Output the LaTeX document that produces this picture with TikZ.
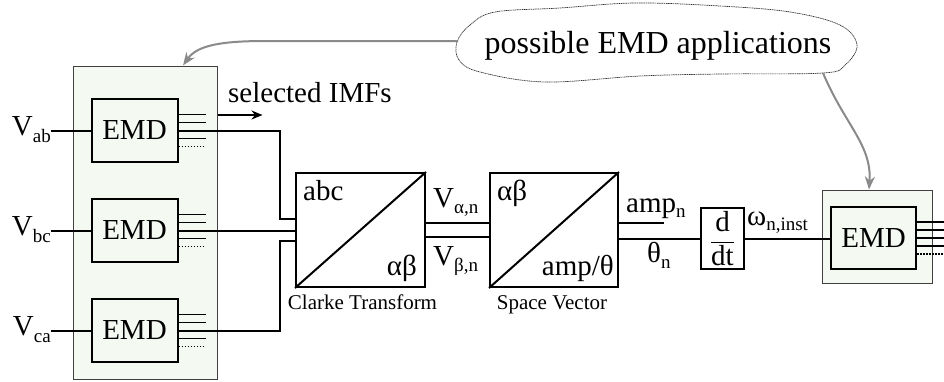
\documentclass[tikz,border=0pt]{standalone}
\usepackage{fontspec}
\setmainfont{Liberation Serif}
\usetikzlibrary{arrows.meta,calc}
\definecolor{panelgreen}{RGB}{244,249,242}
\definecolor{hintgray}{RGB}{138,138,138}
\newcommand{\lsub}[2][7pt]{\raisebox{-#1}{\fontsize{19}{19}\selectfont #2}}
\begin{document}
\begin{tikzpicture}[x=1pt,y=-1pt,
  every node/.style={font=\fontsize{29}{32}\selectfont, inner sep=0pt},
  wire/.style={line width=2pt},
  outl/.style={line width=1.8pt},
  dotl/.style={line width=1.5pt, dash pattern=on 1.5pt off 1.5pt},
  blk/.style={draw, line width=2pt},
  panel/.style={draw=black!75, line width=1pt, fill=panelgreen},
  hint/.style={draw=hintgray, line width=2pt, -{Stealth[length=13pt,width=10pt]}},
  cloudline/.style={draw=black!80, line width=0.7pt, dash pattern=on 1.2pt off 0.6pt},
  smalllab/.style={font=\fontsize{21}{22}\selectfont, anchor=base}]
\useasboundingbox (0,0) rectangle (944,381);

% panels
\node[panel, minimum width=144pt, minimum height=313pt] (pL) at (145,222.5) {};
\node[panel, minimum width=110pt, minimum height=93pt] (pR) at (877,236.5) {};

% EMD blocks
\node[blk, minimum width=86pt, minimum height=63pt] (e1) at (134.5,130.5) {EMD};
\node[blk, minimum width=86pt, minimum height=63pt] (e2) at (134.5,230.5) {EMD};
\node[blk, minimum width=86pt, minimum height=63pt] (e3) at (134.5,330.5) {EMD};
\node[blk, minimum width=85pt, minimum height=62pt] (e4) at (873.5,238) {EMD};

% input labels
\node[anchor=base east] (vab) at (51,135.5) {V\lsub{ab}};
\node[anchor=base east] (vbc) at (51,235.5) {V\lsub{bc}};
\node[anchor=base east] (vca) at (51,335.5) {V\lsub{ca}};
\draw[wire] (e1.west) -- (e1.west -| vab.east);
\draw[wire] (e2.west) -- (e2.west -| vbc.east);
\draw[wire] (e3.west) -- (e3.west -| vca.east);

% IMF outputs
\foreach \e/\len in {e1/27,e2/27,e3/27,e4/28}{
  \foreach \d in {16,8,-8}{
    \draw[outl] ([yshift=\d pt]\e.east) -- ++(\len,0);
  }
  \draw[dotl] ([yshift=-16pt]\e.east) -- ++(\len,0);
}
\draw[outl] (e4.east) -- ++(28,0);

% Clarke and space vector blocks
\node[blk, minimum width=129pt, minimum height=114pt] (cl) at (360.5,230) {};
\draw[wire] (cl.south west) -- (cl.north east);
\node[anchor=base west] (abc) at (303,200) {abc};
\node[anchor=base east] (ab1) at (417,275) {αβ};
\node[smalllab] (cllab) at (362.5,309) {Clarke Transform};

\node[blk, minimum width=128pt, minimum height=114pt] (sv) at (554,230) {};
\draw[wire] (sv.south west) -- (sv.north east);
\node[anchor=base west] (ab2) at (497,200) {αβ};
\node[anchor=base east] (ampth) at (614,275) {amp/θ};
\node[smalllab] (svlab) at (552,309) {Space Vector};

% wires into Clarke
\draw[wire] (e1.east) -- ++(101,0) |- ([yshift=11pt]cl.west);
\draw[wire] (e2.east) -- (e2.east -| cl.west);
\draw[wire] (e3.east) -- ++(101,0) |- ([yshift=-11pt]cl.west);

% Clarke -> space vector
\draw[wire] ([yshift=7pt]cl.east) -- ([yshift=7pt]sv.west);
\draw[wire] ([yshift=-7pt]cl.east) -- ([yshift=-7pt]sv.west);
\node[anchor=base west] (va) at (433,207) {V\lsub[6pt]{α,n}};
\node[anchor=base west] (vb) at (433,265) {V\lsub[6pt]{β,n}};

% d/dt
\node[blk, minimum width=43pt, minimum height=61pt] (dd) at (722.5,238.5)
  {$\displaystyle\frac{\hbox{d}}{\hbox{dt}}$};
\draw[wire] ([yshift=7pt]sv.east) -- ++(45,0);
\draw[wire] (sv.east |- dd.west) -- (dd.west);
\node[anchor=base west] (ampn) at (626,212) {amp\lsub[5pt]{n}};
\node[anchor=base west] (thn) at (647,262) {θ\lsub[6pt]{n}};
\draw[wire] (dd.east) -- (dd.east -| e4.west);
\node[anchor=base west] (om) at (747,225) {ω\lsub[5pt]{n,inst}};

% selected IMFs
\node[anchor=base west] (sel) at (228,102) {selected IMFs};
\draw[wire, -{Stealth[length=11pt,width=9pt]}] ([yshift=107.5pt]pL.east) -- ++(45,0);

% cloud
\draw[cloudline] plot[smooth cycle, tension=0.6] coordinates {
  (457,42) (470,25) (495,12) (560,8) (635,3) (720,6) (790,12) (840,25)
  (857,45) (845,65) (823,73) (720,74) (640,76) (545,82) (480,72) (459,60)};
\node[font=\fontsize{32}{34}\selectfont, anchor=base] (cloudtxt) at (658,53) {possible EMD applications};
\coordinate (cL) at (458,41);
\coordinate (cB) at (823,73);
\draw[hint] (cL) -- (265,41) .. controls (215,41) and (196,47) .. ([xshift=38pt]pL.north);
\draw[hint] (cB) .. controls (845,125) and (872,145) .. ([xshift=-8pt]pR.north);
\end{tikzpicture}
\end{document}
